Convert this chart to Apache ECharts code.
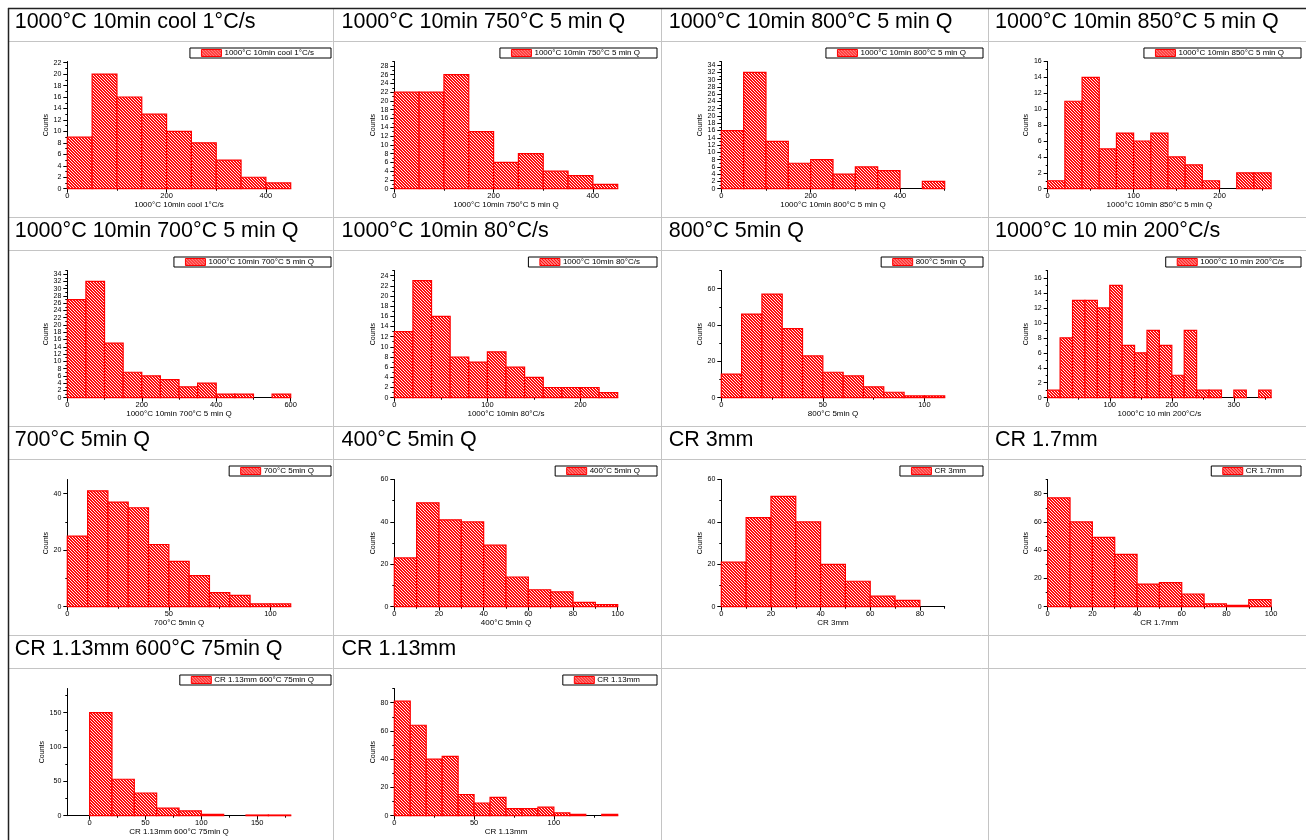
<!DOCTYPE html>
<html>
<head>
<meta charset="utf-8">
<script src="https://cdn.jsdelivr.net/npm/echarts@6/dist/echarts.min.js"></script>
<style>
  html, body { margin: 0; padding: 0; background: #fff; }
  #chart { width: 1306px; height: 840px; }
</style>
</head>
<body>
<div id="chart"></div>
<script>
// Panel titles (also used as series / legend / x-axis names)
const panelTitles = [
  '1000°C 10min cool 1°C/s', '1000°C 10min 750°C 5 min Q', '1000°C 10min 800°C 5 min Q', '1000°C 10min 850°C 5 min Q',
  '1000°C 10min 700°C 5 min Q', '1000°C 10min 80°C/s', '800°C 5min Q', '1000°C 10 min 200°C/s',
  '700°C 5min Q', '400°C 5min Q', 'CR 3mm', 'CR 1.7mm',
  'CR 1.13mm 600°C 75min Q', 'CR 1.13mm'
];

// Histogram counts per bin
const countsCool1  = [9, 20, 16, 13, 10, 8, 5, 2, 1];
const counts750Q   = [22, 22, 26, 13, 6, 8, 4, 3, 1];
const counts800Q   = [16, 32, 13, 7, 8, 4, 6, 5, 0, 2];
const counts850Q   = [1, 11, 14, 5, 7, 6, 7, 4, 3, 1, 0, 2, 2];
const counts700Q   = [27, 32, 15, 7, 6, 5, 3, 4, 1, 1, 0, 1];
const counts80s    = [13, 23, 16, 8, 7, 9, 6, 4, 2, 2, 2, 1];
const counts800_5  = [13, 46, 57, 38, 23, 14, 12, 6, 3, 1, 1];
const counts200s   = [1, 8, 13, 13, 12, 15, 7, 6, 9, 7, 3, 9, 1, 1, 0, 1, 0, 1];
const counts700_5  = [25, 41, 37, 35, 22, 16, 11, 5, 4, 1, 1];
const counts400_5  = [23, 49, 41, 40, 29, 14, 8, 7, 2, 1];
const countsCR3    = [21, 42, 52, 40, 20, 12, 5, 3];
const countsCR17   = [77, 60, 49, 37, 16, 17, 9, 2, 1, 5];
const countsCR113A = [150, 53, 33, 11, 7, 2, 0, 1, 1];
const countsCR113  = [81, 64, 40, 42, 15, 9, 13, 5, 5, 6, 2, 1, 0, 1];

const panelCounts = [
  countsCool1, counts750Q, counts800Q, counts850Q,
  counts700Q, counts80s, counts800_5, counts200s,
  counts700_5, counts400_5, countsCR3, countsCR17,
  countsCR113A, countsCR113
];

// Bin layout
const binStart = [0, 0, 0, 0, 0, 0, 0, 0, 0, 0, 0, 0, 0, 0];
const binWidth = [50, 50, 50, 20, 50, 20, 10, 20, 10, 10, 10, 10, 20, 10];

// Axis ranges and tick steps
const xMin   = [0, 0, 0, 0, 0, 0, 0, 0, 0, 0, 0, 0, -20, 0];
const xMax   = [450, 450, 500, 260, 600, 240, 110, 360, 110, 100, 90, 100, 180, 140];
const xStep  = [200, 200, 200, 100, 200, 100, 50, 100, 50, 20, 20, 20, 50, 50];
const yMax   = [22.2, 29, 35, 16, 35, 25, 70, 17, 45, 60, 60, 90, 185, 90];
const yStep  = [2, 2, 2, 2, 2, 2, 20, 2, 20, 20, 20, 20, 50, 20];

// Table geometry
const rowLines = [8, 217, 426, 635];
const axisLeft = [67.3, 394.3, 721.3, 1047.7];
const titleX   = [14.7, 341.5, 668.7, 995];
const legendRightEdge = [331, 657, 983, 1301];

const FONT = '"Liberation Sans", Arial, Helvetica, sans-serif';

// Red diagonal hatch used as bar fill
function makeHatch() {
  const c = document.createElement('canvas');
  c.width = 3; c.height = 3;
  const g = c.getContext('2d');
  const img = g.createImageData(3, 3);
  for (let y = 0; y < 3; y++) {
    for (let x = 0; x < 3; x++) {
      const i = (y * 3 + x) * 4;
      const light = ((x - y) % 3 + 3) % 3 === 0;
      img.data[i] = 255;
      img.data[i + 1] = light ? 235 : 10;
      img.data[i + 2] = light ? 235 : 10;
      img.data[i + 3] = 255;
    }
  }
  g.putImageData(img, 0, 0);
  return c;
}
const hatch = { image: makeHatch(), repeat: 'repeat' };

function ticksFrom(min, max, step, offset) {
  const out = [];
  const start = Math.ceil((min - offset) / step - 1e-9) * step + offset;
  for (let v = start; v <= max + 1e-9; v += step) out.push(+v.toFixed(6) + 0);
  return out;
}

const grids = [], xAxes = [], yAxes = [], series = [], legends = [], elements = [];

panelTitles.forEach((name, k) => {
  const col = k % 4, row = Math.floor(k / 4);
  const top = rowLines[row] + 53.5;
  grids.push({ left: axisLeft[col], top: top, width: 223.4, height: 127.2 });

  const xMajor = ticksFrom(xMin[k], xMax[k], xStep[k], 0);
  const xMinor = ticksFrom(xMin[k], xMax[k], xStep[k], xStep[k] / 2);
  const yMajor = ticksFrom(0, yMax[k], yStep[k], 0);
  const yMinor = ticksFrom(0, yMax[k], yStep[k], yStep[k] / 2);

  const lineStyle = { color: '#000', width: 1 };
  // main x axis
  xAxes.push({
    gridIndex: k, type: 'value', position: 'bottom', min: xMin[k], max: xMax[k],
    axisLine: { show: true, onZero: false, lineStyle },
    axisTick: { show: true, customValues: xMajor, length: 4, lineStyle },
    axisLabel: { customValues: xMajor, fontSize: 7.5, margin: 3, color: '#000', fontFamily: FONT },
    splitLine: { show: false },
    name: name, nameLocation: 'middle', nameGap: 12,
    nameTextStyle: { fontSize: 8, color: '#000', fontFamily: FONT }
  });
  // minor x ticks
  xAxes.push({
    gridIndex: k, type: 'value', position: 'bottom', min: xMin[k], max: xMax[k],
    axisLine: { show: false, onZero: false },
    axisTick: { show: true, customValues: xMinor, length: 2, lineStyle },
    axisLabel: { show: false }, splitLine: { show: false }
  });
  // main y axis
  yAxes.push({
    gridIndex: k, type: 'value', position: 'left', min: 0, max: yMax[k],
    axisLine: { show: true, onZero: false, lineStyle },
    axisTick: { show: true, customValues: yMajor, length: 4, lineStyle },
    axisLabel: { customValues: yMajor, fontSize: 7, margin: 6, color: '#000', fontFamily: FONT },
    splitLine: { show: false },
    name: 'Counts', nameLocation: 'middle', nameGap: 17, nameRotate: 90,
    nameTextStyle: { fontSize: 7, color: '#000', fontFamily: FONT }
  });
  // minor y ticks
  yAxes.push({
    gridIndex: k, type: 'value', position: 'left', min: 0, max: yMax[k],
    axisLine: { show: false, onZero: false },
    axisTick: { show: true, customValues: yMinor, length: 2, lineStyle },
    axisLabel: { show: false }, splitLine: { show: false }
  });

  const data = panelCounts[k].map((c, i) => [
    binStart[k] + i * binWidth[k], binStart[k] + (i + 1) * binWidth[k], c
  ]);

  series.push({
    type: 'custom', name: name,
    xAxisIndex: 2 * k, yAxisIndex: 2 * k,
    itemStyle: { color: hatch, borderColor: '#ff0000', borderWidth: 1.2 },
    encode: { x: [0, 1], y: 2 },
    data: data,
    renderItem: (params, api) => {
      const c = api.value(2);
      if (!c) return null;
      const p0 = api.coord([api.value(0), 0]);
      const p1 = api.coord([api.value(1), c]);
      return {
        type: 'rect',
        shape: { x: p0[0], y: p1[1], width: p1[0] - p0[0], height: p0[1] - p1[1] },
        style: { fill: hatch, stroke: '#ff0000', lineWidth: 1.2 }
      };
    }
  });

  legends.push({
    data: [name], selectedMode: false,
    right: 1306 - legendRightEdge[col], top: rowLines[row] + 40,
    backgroundColor: '#fff', borderColor: '#000', borderWidth: 1, borderRadius: 0,
    padding: [1, 17, 1, 11], itemWidth: 20, itemHeight: 7, itemGap: 0,
    icon: 'rect',
    itemStyle: { color: hatch, borderColor: '#ff0000', borderWidth: 1 },
    textStyle: { fontSize: 8, lineHeight: 7, color: '#000', fontFamily: FONT, padding: [0, 0, 0, -2] }
  });

  elements.push({
    type: 'text', silent: true, z: 10,
    style: {
      text: name, x: titleX[col], y: rowLines[row] + 14.5,
      fontSize: 21.5, fontFamily: FONT, fill: '#000', verticalAlign: 'middle', align: 'left'
    }
  });
});

// Table rules
const grey = '#c4c4c4';
[41, 217, 250, 426, 459, 635, 668].forEach(y => {
  elements.push({ type: 'line', silent: true, shape: { x1: 8, y1: y + 0.5, x2: 1306, y2: y + 0.5 }, style: { stroke: grey, lineWidth: 1 } });
});
[333, 660.5, 988].forEach(x => {
  elements.push({ type: 'line', silent: true, shape: { x1: Math.round(x) + 0.5, y1: 8, x2: Math.round(x) + 0.5, y2: 840 }, style: { stroke: grey, lineWidth: 1 } });
});
elements.push({ type: 'line', silent: true, z: 11, shape: { x1: 8, y1: 8.5, x2: 1306, y2: 8.5 }, style: { stroke: '#222', lineWidth: 1.5 } });
elements.push({ type: 'line', silent: true, z: 11, shape: { x1: 8.5, y1: 8, x2: 8.5, y2: 840 }, style: { stroke: '#222', lineWidth: 1.5 } });

const chart = echarts.init(document.getElementById('chart'), null, { renderer: 'canvas' });
chart.setOption({
  animation: false,
  backgroundColor: '#fff',
  grid: grids,
  xAxis: xAxes,
  yAxis: yAxes,
  legend: legends,
  series: series,
  graphic: { elements: elements }
});
</script>
</body>
</html>
